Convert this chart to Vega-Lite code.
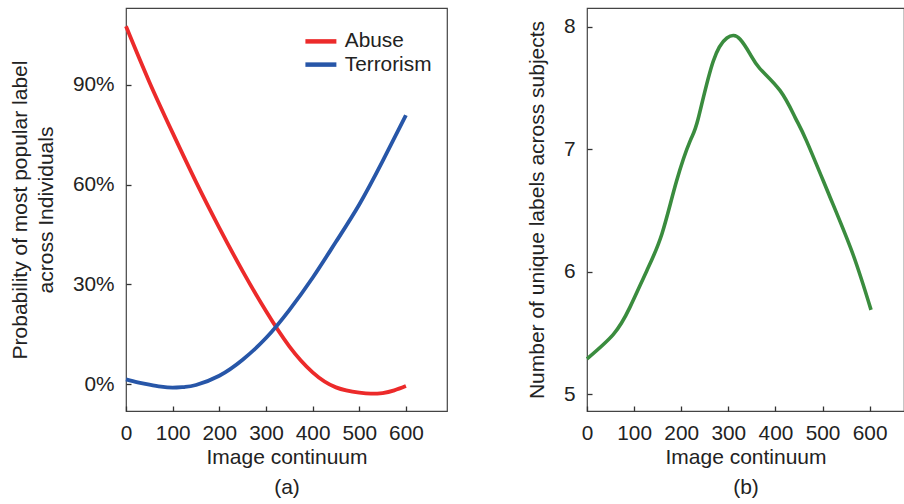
{
  "$schema": "https://vega.github.io/schema/vega-lite/v6.json",
  "padding": {"left": 8, "top": 7, "right": 0, "bottom": 0},
  "background": "white",
  "spacing": 77,
  "config": {
    "font": "Liberation Sans",
    "view": {"stroke": "#444", "strokeWidth": 1.2},
    "axis": {
      "labelFont": "Liberation Sans",
      "labelFontSize": 20.8,
      "labelColor": "#222",
      "labelFlush": false,
      "titleFont": "Liberation Sans",
      "titleFontSize": 21,
      "titleFontWeight": "normal",
      "titleColor": "#222",
      "titlePadding": 16,
      "offset": -5,
      "domain": false,
      "tickSize": 5,
      "tickColor": "#333",
      "tickWidth": 1.3,
      "grid": false,
      "labelPadding": 12,
      "zindex": 1
    },
    "legend": {
      "labelFont": "Liberation Sans",
      "labelFontSize": 20.8,
      "labelColor": "#222",
      "padding": 0
    }
  },
  "datasets": {
    "probs": [
      {"continuum": 0, "label": "Abuse", "probability": 107.5},
      {"continuum": 50, "label": "Abuse", "probability": 90.8},
      {"continuum": 100, "label": "Abuse", "probability": 75.5},
      {"continuum": 150, "label": "Abuse", "probability": 60.8},
      {"continuum": 200, "label": "Abuse", "probability": 47.0},
      {"continuum": 250, "label": "Abuse", "probability": 34.0},
      {"continuum": 300, "label": "Abuse", "probability": 22.0},
      {"continuum": 350, "label": "Abuse", "probability": 11.4},
      {"continuum": 400, "label": "Abuse", "probability": 3.6},
      {"continuum": 450, "label": "Abuse", "probability": -0.9},
      {"continuum": 500, "label": "Abuse", "probability": -2.5},
      {"continuum": 525, "label": "Abuse", "probability": -2.8},
      {"continuum": 550, "label": "Abuse", "probability": -2.6},
      {"continuum": 575, "label": "Abuse", "probability": -1.8},
      {"continuum": 600, "label": "Abuse", "probability": -0.5},
      {"continuum": 0, "label": "Terrorism", "probability": 1.5},
      {"continuum": 25, "label": "Terrorism", "probability": 0.6},
      {"continuum": 50, "label": "Terrorism", "probability": -0.1},
      {"continuum": 75, "label": "Terrorism", "probability": -0.7},
      {"continuum": 100, "label": "Terrorism", "probability": -1.0},
      {"continuum": 125, "label": "Terrorism", "probability": -0.8},
      {"continuum": 150, "label": "Terrorism", "probability": -0.2},
      {"continuum": 200, "label": "Terrorism", "probability": 2.6},
      {"continuum": 250, "label": "Terrorism", "probability": 7.4},
      {"continuum": 300, "label": "Terrorism", "probability": 13.9},
      {"continuum": 350, "label": "Terrorism", "probability": 22.3},
      {"continuum": 400, "label": "Terrorism", "probability": 32.0},
      {"continuum": 450, "label": "Terrorism", "probability": 42.8},
      {"continuum": 500, "label": "Terrorism", "probability": 54.0},
      {"continuum": 550, "label": "Terrorism", "probability": 67.0},
      {"continuum": 600, "label": "Terrorism", "probability": 80.8}
    ],
    "unique": [
      {"continuum": 0, "labels": 5.29},
      {"continuum": 56, "labels": 5.49},
      {"continuum": 91, "labels": 5.71},
      {"continuum": 127, "labels": 6.01},
      {"continuum": 159, "labels": 6.31},
      {"continuum": 190, "labels": 6.74},
      {"continuum": 219, "labels": 7.07},
      {"continuum": 236, "labels": 7.25},
      {"continuum": 268, "labels": 7.72},
      {"continuum": 297, "labels": 7.91},
      {"continuum": 311, "labels": 7.93},
      {"continuum": 325, "labels": 7.9},
      {"continuum": 346, "labels": 7.78},
      {"continuum": 367, "labels": 7.66},
      {"continuum": 410, "labels": 7.48},
      {"continuum": 442, "labels": 7.26},
      {"continuum": 466, "labels": 7.07},
      {"continuum": 516, "labels": 6.61},
      {"continuum": 565, "labels": 6.14},
      {"continuum": 603, "labels": 5.69}
    ]
  },
  "hconcat": [
    {
      "width": 321,
      "height": 403,
      "data": {"name": "probs"},
      "mark": {"type": "line", "strokeWidth": 3.8, "interpolate": "natural"},
      "encoding": {
        "x": {
          "field": "continuum",
          "type": "quantitative",
          "scale": {"domain": [0, 688], "nice": false, "zero": false},
          "axis": {"values": [0, 100, 200, 300, 400, 500, 600], "title": ["Image continuum", "(a)"], "titleLineHeight": 30, "titlePadding": 4}
        },
        "y": {
          "field": "probability",
          "type": "quantitative",
          "scale": {"domain": [-8, 113], "nice": false, "zero": false},
          "axis": {"values": [0, 30, 60, 90], "labelExpr": "datum.value + '%'", "title": ["Probability of most popular label", "across Individuals"], "titleLineHeight": 26}
        },
        "color": {
          "field": "label",
          "type": "nominal",
          "scale": {"domain": ["Abuse", "Terrorism"], "range": ["#EC2A2A", "#2756A8"]},
          "legend": {
            "orient": "none",
            "legendX": 184.5,
            "legendY": 23,
            "title": null,
            "symbolType": "M-2,0L2,0",
            "symbolSize": 240,
            "symbolStrokeWidth": 4.5,
            "labelOffset": 13.5,
            "rowPadding": 1.2
          }
        }
      }
    },
    {
      "width": 317,
      "height": 403,
      "data": {"name": "unique"},
      "mark": {"type": "line", "strokeWidth": 3.6, "interpolate": "natural", "color": "#3A8C3E"},
      "encoding": {
        "x": {
          "field": "continuum",
          "type": "quantitative",
          "scale": {"domain": [0, 673], "nice": false, "zero": false},
          "axis": {"values": [0, 100, 200, 300, 400, 500, 600], "title": ["Image continuum", "(b)"], "titleLineHeight": 30, "titlePadding": 4}
        },
        "y": {
          "field": "labels",
          "type": "quantitative",
          "scale": {"domain": [4.864, 8.155], "nice": false, "zero": false},
          "axis": {"values": [5, 6, 7, 8], "title": "Number of unique labels across subjects"}
        }
      }
    }
  ]
}
